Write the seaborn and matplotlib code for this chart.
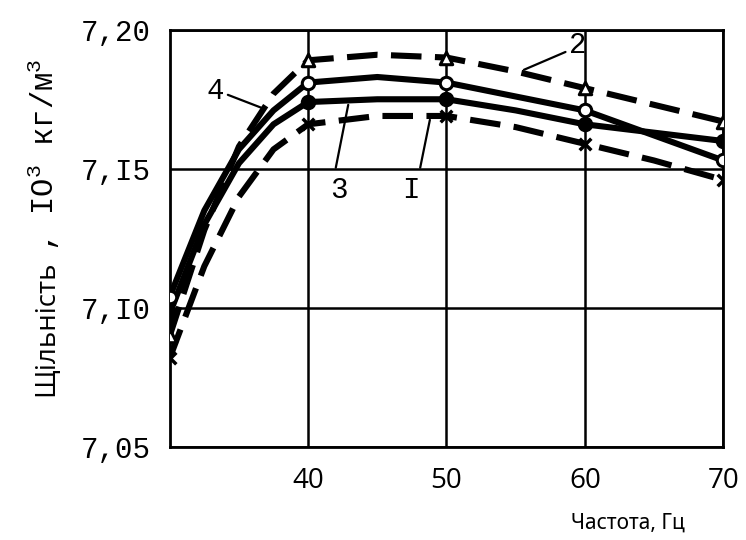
import numpy as np
import pandas as pd
import matplotlib
matplotlib.use("Agg")
import matplotlib.pyplot as plt
import seaborn as sns

# ---- data ----
freq = [30, 32.5, 35, 37.5, 40, 45, 50, 55, 60, 65, 70]
curve_2 = [7.090, 7.128, 7.158, 7.177, 7.189, 7.191, 7.190, 7.185, 7.179, 7.173, 7.167]   # dashed, triangles
curve_4 = [7.104, 7.135, 7.157, 7.171, 7.181, 7.183, 7.181, 7.176, 7.171, 7.162, 7.153]   # solid, open circles
curve_3 = [7.098, 7.130, 7.152, 7.166, 7.174, 7.175, 7.175, 7.171, 7.166, 7.163, 7.160]   # solid, filled dots
curve_1 = [7.082, 7.115, 7.140, 7.157, 7.166, 7.169, 7.169, 7.165, 7.159, 7.153, 7.146]   # dashed, crosses
marker_freq = [30, 40, 50, 60, 70]

x_ticks = [40, 50, 60, 70]
y_ticks = [7.05, 7.10, 7.15, 7.20]
y_tick_labels = ["7,05", "7,I0", "7,I5", "7,20"]

sns.set_style("white")
plt.rcParams['font.family'] = ['Open Sans', 'DejaVu Sans']
plt.rcParams['mathtext.fontset'] = 'custom'
plt.rcParams['mathtext.rm'] = 'Liberation Mono'
plt.rcParams['mathtext.it'] = 'Liberation Mono'

fig = plt.figure(figsize=(7.46, 5.40), dpi=100)
ax = fig.add_axes([0.2275, 0.172, 0.742, 0.773])

df = pd.DataFrame({"freq": freq, "c2": curve_2, "c4": curve_4, "c3": curve_3, "c1": curve_1})
mk = df[df["freq"].isin(marker_freq)]

styles = [
    ("c2", (0, (5, 2.2)), '^', 'white'),
    ("c4", '-', 'o', 'white'),
    ("c3", '-', 'o', 'black'),
    ("c1", (0, (5, 2.2)), 'x', 'black'),
]
for col, ls, m, fc in styles:
    sns.lineplot(data=df, x="freq", y=col, ax=ax, color='black', linewidth=4.4,
                 linestyle=ls, errorbar=None, sort=True)
    if m == 'x':
        sns.scatterplot(data=mk, x="freq", y=col, ax=ax, marker='x', s=70,
                        color='black', linewidth=2.5, zorder=5)
    else:
        sns.scatterplot(data=mk, x="freq", y=col, ax=ax, marker=m, s=80,
                        facecolor=fc, edgecolor='black', linewidth=2.2, zorder=5)

ax.set_xlim(30, 70)
ax.set_ylim(7.05, 7.20)
ax.set_xticks(x_ticks)
ax.set_yticks(y_ticks)
ax.set_yticklabels(y_tick_labels, fontfamily='Liberation Mono', fontsize=21)
ax.set_xticklabels([str(v) for v in x_ticks], fontsize=20)
ax.tick_params(axis='both', length=0, colors='black')
ax.tick_params(axis='y', pad=14)
ax.tick_params(axis='x', pad=14)
ax.grid(True, color='black', linewidth=1.8)
for s in ax.spines.values():
    s.set_color('black')
    s.set_linewidth(2)
ax.set_xlabel("")
ax.set_ylabel("")

# curve labels with leader lines
ann = [
    ("4", 33.3, 7.178, (34.2, 7.1766), (36.6, 7.172)),
    ("2", 59.5, 7.1946, (58.6, 7.192), (55.6, 7.1856)),
    ("3", 42.2, 7.1424, (42.0, 7.1504), (42.9, 7.173)),
    ("I", 47.4, 7.1424, (48.1, 7.1504), (48.8, 7.1676)),
]
for t, tx, ty, p0, p1 in ann:
    ax.text(tx, ty, t, fontfamily='Liberation Mono', fontsize=21, ha='center', va='center',
            color='black', zorder=6)
    ax.plot([p0[0], p1[0]], [p0[1], p1[1]], color='black', linewidth=1.6, zorder=6)

# axis labels (two parts: sans word + monospace unit)
fig.text(0.062, 0.517, "Щільність", rotation=90, ha='center', va='top',
         fontsize=20, color='black', family=['Open Sans', 'DejaVu Sans'])
fig.text(0.058, 0.535, r", IO$^{3}$ кг/м$^{3}$", rotation=90, ha='center', va='bottom',
         fontsize=22, color='black', family=['Liberation Mono', 'DejaVu Sans'])
fig.text(0.841, 0.032, "Частота, Гц", ha='center', va='center', fontsize=15, color='black',
         family=['Noto Sans', 'DejaVu Sans'])

fig.savefig("out.png", dpi=100)
